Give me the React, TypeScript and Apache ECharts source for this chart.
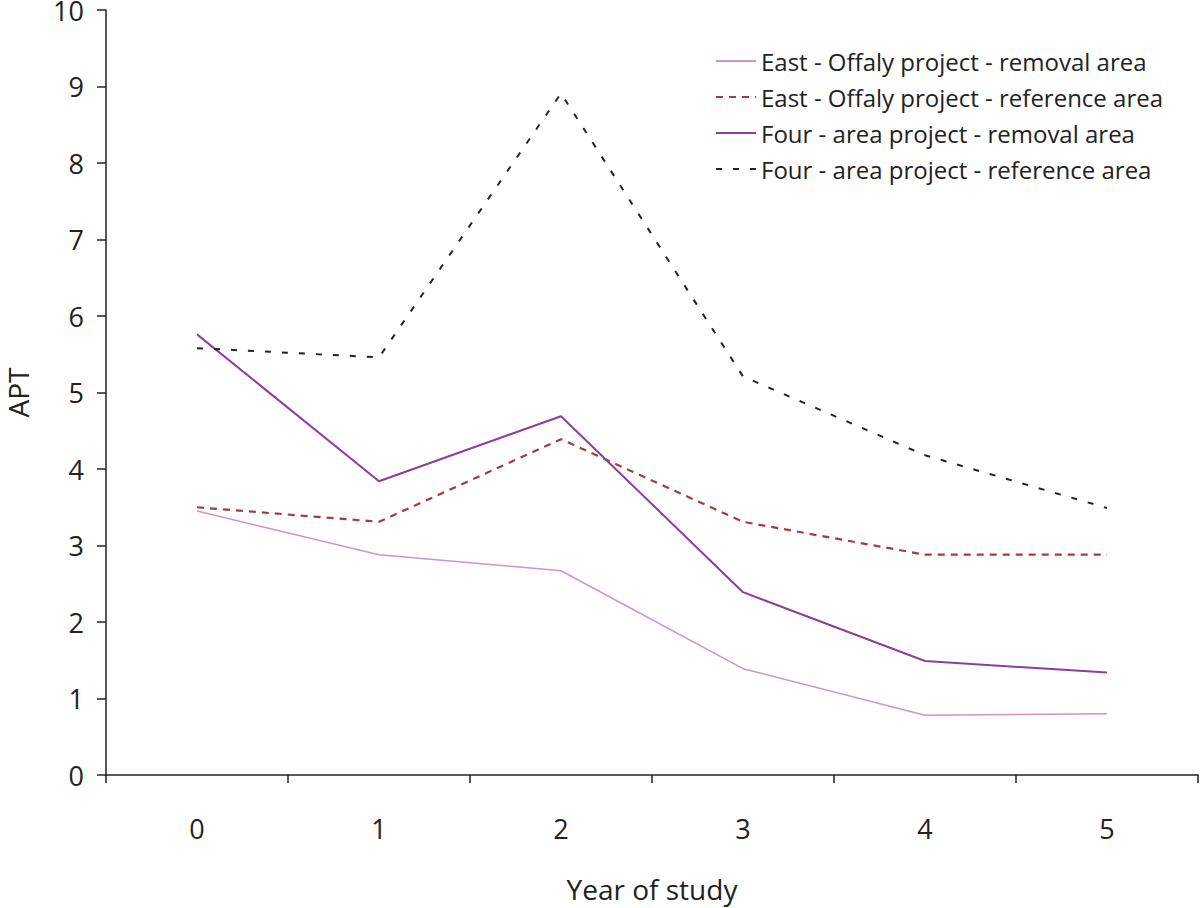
import React, { useEffect, useRef } from "react";
import * as echarts from "echarts";

const years = ["0", "1", "2", "3", "4", "5"];
const eastRemoval = [3.45, 2.88, 2.67, 1.39, 0.78, 0.8];
const eastReference = [3.5, 3.31, 4.39, 3.31, 2.88, 2.88];
const fourRemoval = [5.76, 3.84, 4.69, 2.39, 1.49, 1.34];
const fourReference = [5.58, 5.46, 8.91, 5.21, 4.18, 3.49];
const seriesNames = [
  "East - Offaly project - removal area",
  "East - Offaly project - reference area",
  "Four - area project - removal area",
  "Four - area project - reference area",
];

const FONT = "Open Sans";

export default function App() {
  const ref = useRef<HTMLDivElement>(null);
  useEffect(() => {
    if (!ref.current) return;
    const chart = echarts.init(ref.current, null, { renderer: "svg" });
    const axisColor = "#222";
    chart.setOption({
      animation: false,
      backgroundColor: "#fff",
      textStyle: { fontFamily: FONT },
      grid: {
        left: 106,
        right: 2,
        top: 10,
        bottom: 133,
        containLabel: false,
        outerBoundsMode: "none",
      },
      legend: {
        orient: "vertical",
        left: 710,
        top: 44,
        itemWidth: 40,
        itemHeight: 14,
        itemGap: 12,
        itemStyle: { opacity: 0 },
        textStyle: { fontFamily: FONT, fontSize: 24, color: "#222" },
        data: seriesNames,
      },
      xAxis: {
        type: "category",
        data: years,
        boundaryGap: true,
        name: "Year of study",
        nameLocation: "middle",
        nameGap: 100,
        nameTextStyle: { fontFamily: FONT, fontSize: 28, color: "#222" },
        axisLine: { lineStyle: { color: axisColor, width: 1.5 } },
        axisTick: { show: true, inside: false, length: 8, lineStyle: { color: axisColor, width: 1.5 } },
        axisLabel: { margin: 40, fontFamily: FONT, fontSize: 27, color: "#222" },
        splitLine: { show: false },
      },
      yAxis: {
        type: "value",
        min: 0,
        max: 10,
        interval: 1,
        name: "APT",
        nameLocation: "middle",
        nameGap: 74,
        nameTextStyle: { fontFamily: FONT, fontSize: 28, color: "#222", lineHeight: 28 },
        axisLine: { show: true, lineStyle: { color: axisColor, width: 1.5 } },
        axisTick: { show: true, inside: false, length: 9, lineStyle: { color: axisColor, width: 1.5 } },
        axisLabel: { margin: 22, fontFamily: FONT, fontSize: 27, color: "#222", lineHeight: 20 },
        splitLine: { show: false },
      },
      series: [
        {
          name: seriesNames[0],
          type: "line",
          data: eastRemoval,
          symbol: "none",
          lineStyle: { color: "#cc94c8", width: 1.5 },
          itemStyle: { color: "#cc94c8" },
        },
        {
          name: seriesNames[1],
          type: "line",
          data: eastReference,
          symbol: "none",
          lineStyle: { color: "#a83a3c", width: 2.2, type: [7, 6] },
          itemStyle: { color: "#a83a3c" },
        },
        {
          name: seriesNames[2],
          type: "line",
          data: fourRemoval,
          symbol: "none",
          lineStyle: { color: "#8c3f98", width: 2 },
          itemStyle: { color: "#8c3f98" },
        },
        {
          name: seriesNames[3],
          type: "line",
          data: fourReference,
          symbol: "none",
          lineStyle: { color: "#222", width: 2, type: [6, 11] },
          itemStyle: { color: "#222" },
        },
      ],
    });
    return () => chart.dispose();
  }, []);
  return (
    <div
      ref={ref}
      style={{ position: "absolute", left: 0, top: 0, width: 1200, height: 908 }}
    />
  );
}
